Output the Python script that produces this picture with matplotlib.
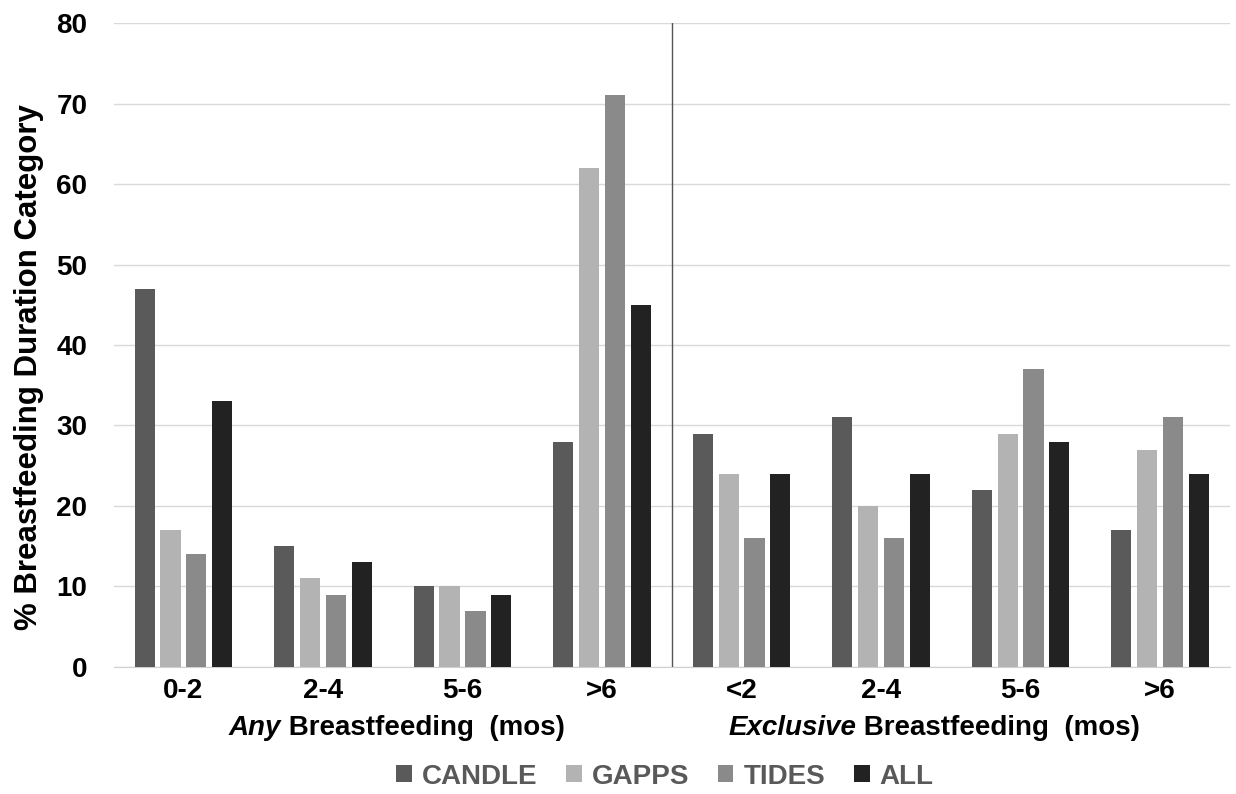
import matplotlib
matplotlib.use("Agg")
import matplotlib.pyplot as plt
import numpy as np
from matplotlib.transforms import IdentityTransform

categories = ["0-2", "2-4", "5-6", ">6", "<2", "2-4", "5-6", ">6"]
series_names = ["CANDLE", "GAPPS", "TIDES", "ALL"]
candle = [47, 15, 10, 28, 29, 31, 22, 17]
gapps = [17, 11, 10, 62, 24, 20, 29, 27]
tides = [14, 9, 7, 71, 16, 16, 37, 31]
all_ = [33, 13, 9, 45, 24, 24, 28, 24]
colors = ["#5a5a5a", "#b3b3b3", "#8a8a8a", "#222222"]
yticks = [0, 10, 20, 30, 40, 50, 60, 70, 80]
group_labels = [("Any", " Breastfeeding  (mos)", 1.53), ("Exclusive", " Breastfeeding  (mos)", 5.38)]

plt.rcParams['font.family'] = ['Liberation Sans', 'DejaVu Sans']
FS = 20

fig = plt.figure(figsize=(12.36, 7.94), dpi=100)
ax = fig.add_axes([0.092, 0.16, 0.903, 0.811])

x = np.arange(len(categories))
spacing = 0.185
width = 0.145
data = [candle, gapps, tides, all_]
for i, (vals, c, name) in enumerate(zip(data, colors, series_names)):
    ax.bar(x + (i - 1.5) * spacing, vals, width, color=c, label=name, zorder=3)

ax.set_xlim(-0.5, 7.5)
ax.set_ylim(0, 80)
ax.set_yticks(yticks)
ax.set_yticklabels([str(t) for t in yticks], fontsize=FS, fontweight='bold')
ax.set_xticks(x)
ax.set_xticklabels(categories, fontsize=FS, fontweight='bold')
ax.tick_params(axis='y', length=0, pad=19)
ax.tick_params(axis='x', length=0, pad=8)
ax.yaxis.grid(True, color="#d9d9d9", linewidth=1, zorder=0)
ax.set_axisbelow(True)
for s in ['top', 'right', 'left']:
    ax.spines[s].set_visible(False)
ax.spines['bottom'].set_color("#d0d0d0")
ax.axvline(3.5, color="#555555", linewidth=1, zorder=4)

# y axis title
fig.text(29, 794 - 367, "% Breastfeeding Duration Category", fontsize=22.5, fontweight='bold',
         rotation=90, ha='center', va='center', transform=IdentityTransform())

# group labels with italic first word
renderer = fig.canvas.get_renderer()
label_y_px = 794 - 728
for word_it, rest, xc in group_labels:
    t1 = fig.text(0, 0, word_it, fontsize=FS, fontweight='bold', fontstyle='italic',
                  transform=IdentityTransform(), va='center', ha='left')
    t2 = fig.text(0, 0, rest, fontsize=FS, fontweight='bold',
                  transform=IdentityTransform(), va='center', ha='left')
    w1 = t1.get_window_extent(renderer).width
    w2 = t2.get_window_extent(renderer).width
    cx = ax.transData.transform((xc, 0))[0]
    x0 = cx - (w1 + w2) / 2
    t1.set_position((x0, label_y_px))
    t2.set_position((x0 + w1, label_y_px))

leg = fig.legend(loc='center', bbox_to_anchor=(0.538, 0.022), ncol=4, frameon=False,
                 fontsize=FS, handlelength=0.55, handleheight=0.55, handletextpad=0.36,
                 columnspacing=1.05)
for t in leg.get_texts():
    t.set_color("#595959")
    t.set_fontweight('bold')

fig.savefig("out.png", dpi=100)
